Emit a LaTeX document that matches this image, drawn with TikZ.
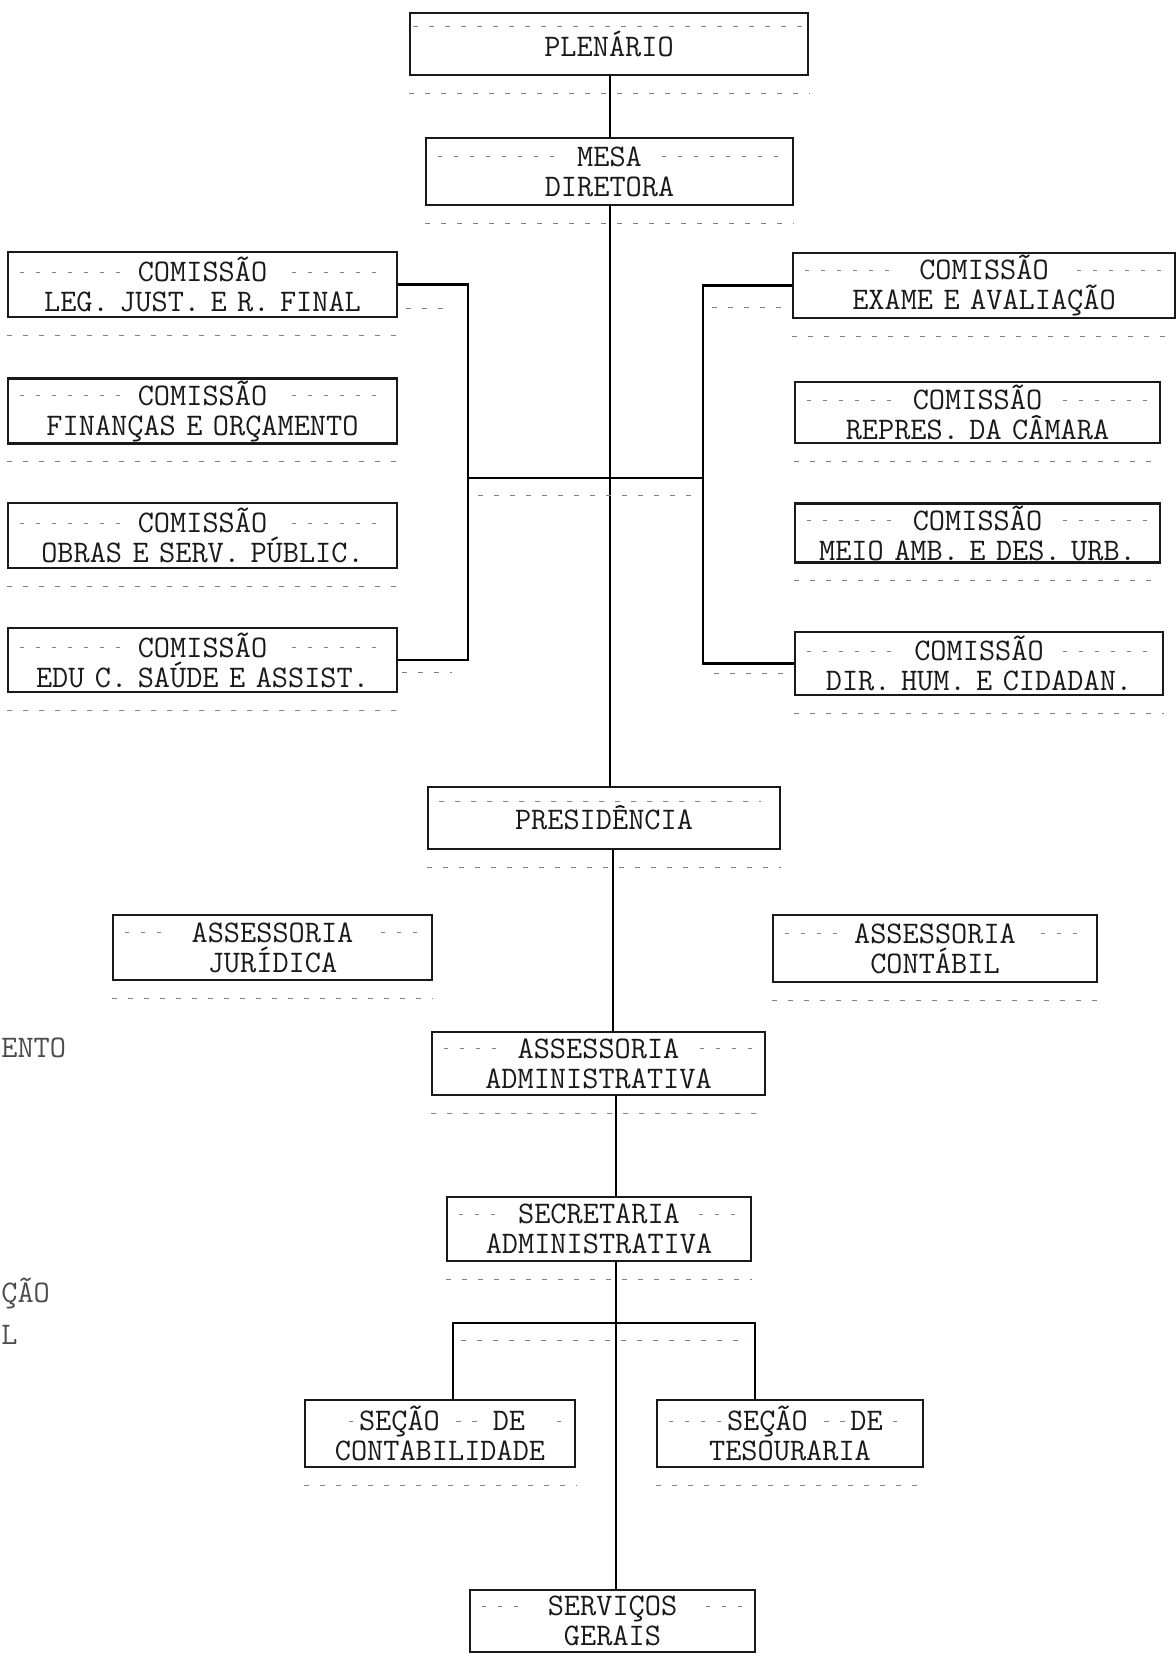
\documentclass[tikz,border=0pt]{standalone}
\usepackage{fontspec}
\newcommand{\dl}{\leaders\hbox to 8pt{\hss\textcolor{gray}{\rule[0.28em]{2.4pt}{0.5pt}}\hss}\hfill}
\newcommand{\dk}[1]{\xleaders\hbox to 8pt{\hss\textcolor{gray}{\rule[0.28em]{2.4pt}{0.5pt}}\hss}\hskip #1}
\newcommand{\dline}[1]{\makebox[\linewidth]{\dl\ #1\ \dl}}

\begin{document}
\begin{tikzpicture}[x=0.5pt,y=-0.5pt,
    cx/.style 2 args={draw=black!90, line width=1.2pt, inner xsep=2pt, inner ysep=1pt,
      minimum width=#1*0.5pt, minimum height=#2*0.5pt, text width=#1*0.5pt-6pt,
      align=center, font=\fontsize{15.7}{15}\selectfont\ttfamily, text=black!90},
    link/.style={draw=black, line width=1.3pt},
    trow/.style={draw=gray, line width=0.5pt, dash pattern=on 2.4pt off 5.6pt},
    frag/.style={anchor=west, inner sep=0pt, font=\fontsize{15.7}{15}\selectfont\ttfamily, text=black!70}]
    \useasboundingbox (0,0) rectangle (1176,1664);

    \node[cx={398}{62}] (plen) at (609,44) {PLENÁRIO};
    \node[cx={367}{67}] (mesa) at (609.5,171.5) {\dline{MESA}\\DIRETORA};

    \node[cx={389}{65}] (lc1) at (202.5,284.5) {\dline{COMISSÃO}\\LEG. JUST. E R. FINAL};
    \node[cx={389}{62}] (lc2) at (202.5,411) {\dline{COMISSÃO}\\FINANÇAS E ORÇAMENTO};
    \node[cx={389}{65}] (lc3) at (202.5,535.5) {\dline{COMISSÃO}\\OBRAS E SERV. PÚBLIC.};
    \node[cx={389}{64}] (lc4) at (202.5,660) {\dline{COMISSÃO}\\EDU C. SAÚDE E ASSIST.};

    \node[cx={382}{65}] (rc1) at (984,285.5) {\dline{COMISSÃO}\\EXAME E AVALIAÇÃO};
    \node[cx={365}{61}] (rc2) at (977.5,412.5) {\dline{COMISSÃO}\\REPRES. DA CÂMARA};
    \node[cx={365}{57}] (rc3) at (977.5,533) {\dline{COMISSÃO}\\MEIO AMB. E DES. URB.};
    \node[cx={368}{63}] (rc4) at (979,663.5) {\dline{COMISSÃO}\\DIR. HUM. E CIDADAN.};

    \node[cx={352}{62}] (pres) at (604,818) {PRESIDÊNCIA};
    \node[cx={319}{65}] (jur) at (272.5,947.5) {\dline{ASSESSORIA}\\JURÍDICA};
    \node[cx={324}{67}] (cont) at (935,948.5) {\dline{ASSESSORIA}\\CONTÁBIL};
    \node[cx={333}{63}] (aadm) at (598.5,1063.5) {\dline{ASSESSORIA}\\ADMINISTRATIVA};
    \node[cx={304}{64}] (sec) at (599,1229) {\dline{SECRETARIA}\\ADMINISTRATIVA};

    \node[cx={270}{67}] (contab) at (440,1433.5) {\makebox[\linewidth]{\hskip 16pt\dk{8pt}SEÇÃO\ \dk{16pt}\ DE\ \dl}\\CONTABILIDADE};
    \node[cx={266}{67}] (tes) at (790,1433.5) {\makebox[\linewidth]{\dk{32pt}SEÇÃO\ \dk{16pt}DE\dl}\\TESOURARIA};
    \node[cx={285}{62}] (serv) at (612.5,1621) {\dline{SERVIÇOS}\\GERAIS};

    % bits of the next sheet at the left edge
    \node[frag] (frag1) at (1,1048) {ENTO};
    \node[frag] (frag2) at (1,1293) {ÇÃO};
    \node[frag] (frag3) at (1,1335) {L};

    % spine
    \coordinate (spA) at (610,0);
    \coordinate (spB) at (613,0);
    \coordinate (spC) at (616,0);
    \draw[link] (plen.south -| spA) -- (mesa.north -| spA);
    \draw[link] (mesa.south -| spA) -- (pres.north -| spA);
    \draw[link] (pres.south -| spB) -- (aadm.north -| spB);
    \draw[link] (aadm.south -| spC) -- (sec.north -| spC);
    \draw[link] (sec.south -| spC) -- (serv.north -| spC);

    % comissoes
    \coordinate (lbus) at (468,478);
    \coordinate (rbus) at (703,478);
    \draw[link] (lc1.east) -- (lc1.east -| lbus) -- (lc4.east -| lbus) -- (lc4.east);
    \draw[link] (lbus) -- (rbus);
    \draw[link] (rc1.west) -- (rc1.west -| rbus) -- (rc4.west -| rbus) -- (rc4.west);

    % secoes
    \coordinate (bl) at (453,1323);
    \coordinate (br) at (755,1323);
    \draw[link] (contab.north -| bl) -- (bl) -- (br) -- (tes.north -| br);

    % typed rows
    \foreach \n in {plen,mesa,lc1,lc2,lc3,lc4,rc1,rc2,rc3,rc4,pres,jur,cont,aadm,sec,contab,tes}
        \draw[trow] ([yshift=-8.5pt]\n.south west) -- ([yshift=-8.5pt]\n.south east);
    \draw[trow] ([shift={(4,15)}]plen.north west) -- ([shift={(-4,15)}]plen.north east);
    \draw[trow] ([shift={(12,16)}]pres.north west) -- ([shift={(-20,16)}]pres.north east);
    \draw[trow] ([shift={(8,24)}]lc1.east) -- ++(45,0);
    \draw[trow] ([shift={(4,12)}]lc4.east) -- ++(50,0);
    \draw[trow] ([shift={(-80,22)}]rc1.west) -- ++(75,0);
    \draw[trow] ([shift={(-80,10)}]rc4.west) -- ++(75,0);
    \draw[trow] ([shift={(10,17)}]lbus) -- ([shift={(-12,17)}]rbus);
    \draw[trow] ([shift={(8,17)}]bl) -- ([shift={(-6,17)}]br);
\end{tikzpicture}
\end{document}
